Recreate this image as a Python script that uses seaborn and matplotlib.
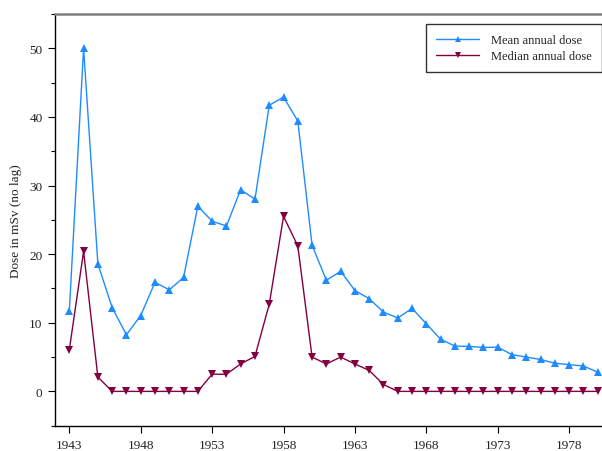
import numpy as np
import pandas as pd
import matplotlib
matplotlib.use("Agg")
import matplotlib.pyplot as plt
import seaborn as sns

years = list(range(1943, 1981))

mean_dose = [11.65, 50.0, 18.6, 12.2, 8.25, 11.05, 15.9, 14.8, 16.6, 27.0,
             24.8, 24.1, 29.4, 28.0, 41.7, 42.9, 39.4, 21.3, 16.2, 17.5,
             14.7, 13.5, 11.55, 10.7, 12.1, 9.85, 7.6, 6.6, 6.55, 6.4,
             6.45, 5.35, 5.0, 4.65, 4.1, 3.9, 3.7, 2.8]

median_dose = [6.05, 20.4, 2.1, 0, 0, 0, 0, 0, 0, 0,
               2.5, 2.5, 4.0, 5.1, 12.7, 25.5, 21.2, 5.0, 4.0, 5.0,
               4.0, 3.05, 1.0, 0, 0, 0, 0, 0, 0, 0,
               0, 0, 0, 0, 0, 0, 0, 0]

series_names = ["Mean annual dose", "Median annual dose"]
x_ticks = [1943, 1948, 1953, 1958, 1963, 1968, 1973, 1978]
y_ticks = [0, 10, 20, 30, 40, 50]

df = pd.DataFrame({
    "Year": years * 2,
    "Dose": mean_dose + median_dose,
    "Series": [series_names[0]] * len(years) + [series_names[1]] * len(years),
})

sns.set_style("white")
plt.rcParams["font.family"] = ["Liberation Serif", "DejaVu Serif"]
plt.rcParams["font.size"] = 9

fig = plt.figure(figsize=(6.02, 4.52), dpi=100)
ax = fig.add_axes([0.0914, 0.056, 0.9086, 0.9108])

palette = {series_names[0]: "#1E8CFF", series_names[1]: "#82003F"}
markers = {series_names[0]: "^", series_names[1]: "v"}

sns.lineplot(data=df, x="Year", y="Dose", hue="Series", style="Series",
             palette=palette, markers=markers, dashes=False,
             markersize=5.5, markeredgewidth=0, linewidth=1.0, ax=ax)

ax.set_xlim(1942.0, 1980.3)
ax.set_ylim(-5, 55)
ax.set_xticks(x_ticks)
ax.set_xticklabels([str(t) for t in x_ticks])
ax.set_yticks(y_ticks)
ax.set_yticks(np.arange(-5, 56, 10), minor=True)
ax.tick_params(axis="both", which="major", direction="out", length=5,
               width=0.8, color="black", labelsize=9.5, labelcolor="#222222",
               left=True, bottom=True)
ax.tick_params(axis="x", which="major", pad=4.5)
ax.tick_params(axis="y", which="major", pad=4)
ax.tick_params(axis="y", which="minor", direction="out", length=3,
               width=0.8, color="black", left=True)
ax.set_xlabel("")
ax.set_ylabel("Dose in mSv (no lag)", fontsize=9.5, color="#222222", labelpad=5)

for side in ("left", "bottom"):
    ax.spines[side].set_color("black")
    ax.spines[side].set_linewidth(1.0)
ax.spines["top"].set_color("#808080")
ax.spines["top"].set_linewidth(1.8)
ax.spines["right"].set_visible(False)

handles, labels = ax.get_legend_handles_labels()
leg = ax.legend(handles, labels, loc="upper right",
                bbox_to_anchor=(1.0, 0.976), frameon=True, fancybox=False,
                edgecolor="black", fontsize=9, handlelength=3.4,
                handletextpad=1.0, borderpad=0.8, labelspacing=0.35,
                borderaxespad=0.0)
leg.get_frame().set_linewidth(1.0)
for h in leg.legend_handles:
    h.set_markersize(5)
for t in leg.get_texts():
    t.set_color("#222222")

fig.savefig("out.png", dpi=100)
